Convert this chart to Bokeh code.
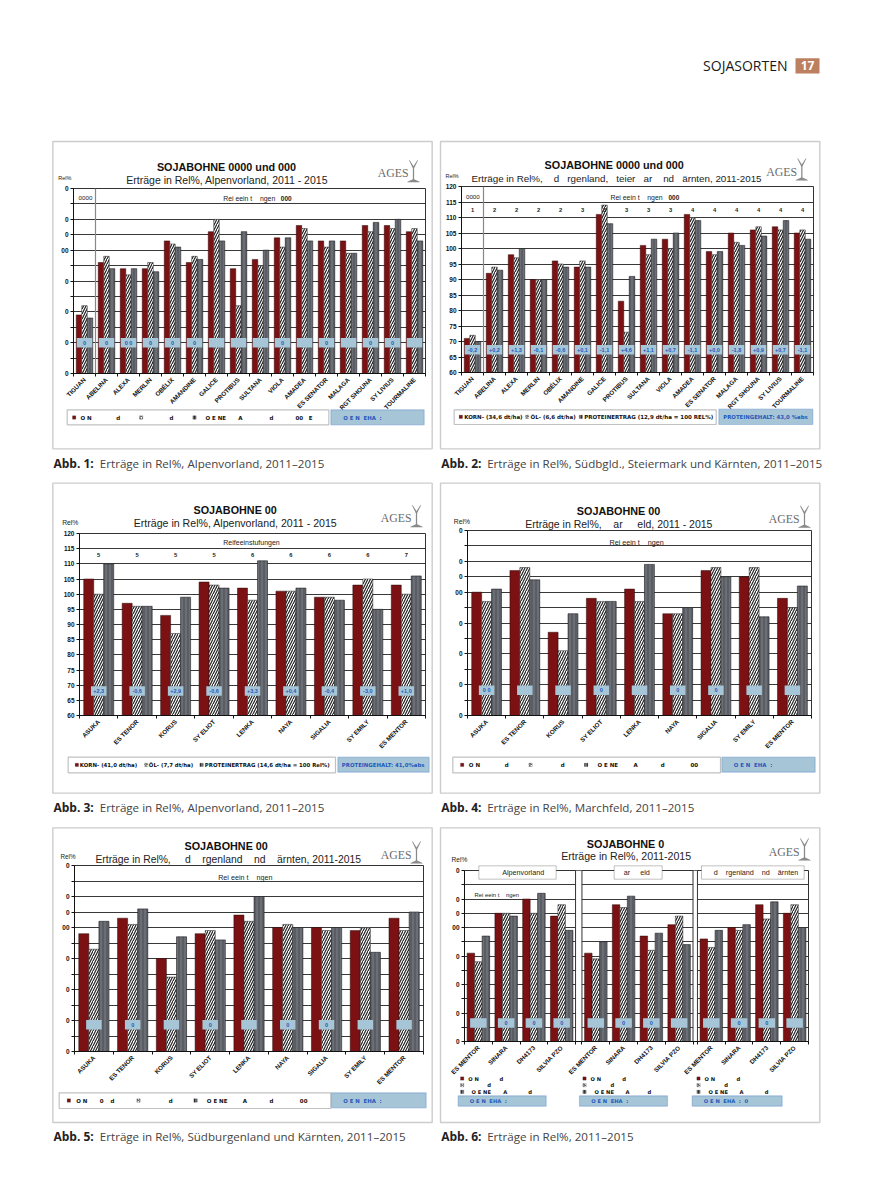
import math, re
from bokeh.plotting import figure
from bokeh.layouts import column
from bokeh.models import (Range1d, LinearAxis, FixedTicker, Grid, Label, BoxAnnotation,
                          PolyAnnotation, Span)
from bokeh.core.properties import value
from bokeh.embed import file_html
from bokeh.resources import INLINE

# ---------------- data (Rel%) -----------------
y_ticks = list(range(60, 125, 5))
names_a = ["TIGUAN", "ABELINA", "ALEXA", "MERLIN", "OBÉLIX", "AMANDINE", "GALICE", "PROTIBUS",
           "SULTANA", "VIOLA", "AMADEA", "ES SENATOR", "MALAGA", "RGT SHOUNA", "SY LIVIUS", "TOURMALINE"]
names_b = ["ASUKA", "ES TENOR", "KORUS", "SY ELIOT", "LENKA", "NAYA", "SIGALIA", "SY EMILY", "ES MENTOR"]
names_c = ["ES MENTOR", "SINARA", "DH4173", "SILVIA PZO"]

korn1 = [79, 96, 94, 94, 103, 96, 106, 94, 97, 104, 108, 103, 103, 108, 108, 106]
oel1 = [82, 98, 92, 96, 102, 98, 110, 82, 95, 101, 107, 101, 99, 106, 107, 107]
prot1 = [78, 94, 94, 93, 101, 97, 103, 106, 100, 104, 103, 103, 99, 109, 110, 103]
badge1 = ["0", "0", "0 0", "0", "0", "0", "", "", "", "0", "", "0", "", "0", "0", ""]

korn2 = [71, 92, 98, 90, 96, 94, 111, 83, 101, 103, 111, 99, 105, 106, 107, 105]
oel2 = [72, 94, 97, 90, 95, 96, 114, 73, 98, 100, 110, 98, 102, 107, 106, 106]
prot2 = [70, 93, 100, 90, 94, 94, 108, 91, 103, 105, 109, 99, 101, 104, 109, 103]
badge2 = ["-0,2", "+0,2", "+1,3", "-0,1", "-0,6", "+0,1", "-1,1", "+4,6", "+1,1", "+0,7", "-1,1",
          "+0,0", "-1,8", "+0,9", "+0,7", "-1,1"]
maturity2 = ["1", "2", "2", "2", "2", "3", "3", "3", "3", "3", "4", "4", "4", "4", "4", "4"]

korn3 = [105, 97, 93, 104, 102, 101, 99, 103, 103]
oel3 = [100, 96, 87, 103, 98, 101, 99, 105, 100]
prot3 = [110, 96, 99, 102, 111, 102, 98, 95, 106]
badge3 = ["+2,3", "-0,6", "+2,9", "-0,6", "+3,3", "+0,4", "-0,4", "-3,0", "+1,0"]
maturity3 = ["5", "5", "5", "5", "6", "6", "6", "6", "7"]

korn4 = [100, 107, 87, 98, 101, 93, 107, 105, 98]
oel4 = [97, 108, 81, 97, 97, 93, 108, 108, 95]
prot4 = [101, 104, 93, 97, 109, 95, 105, 92, 102]
badge4 = ["0 0", "", "", "0", "", "0", "0", "", ""]

korn5 = [98, 103, 90, 98, 104, 100, 100, 99, 103]
oel5 = [93, 101, 84, 99, 102, 101, 99, 100, 99]
prot5 = [102, 106, 97, 96, 110, 100, 100, 92, 105]
badge5 = ["", "0", "", "0", "", "0", "0", "", ""]

korn6 = [91, 105, 110, 104, 91, 108, 97, 101, 96, 100, 108, 105]
oel6 = [88, 105, 105, 108, 89, 107, 92, 104, 93, 99, 103, 108]
prot6 = [97, 104, 112, 99, 95, 111, 98, 94, 99, 101, 109, 100]
badge6 = ["", "0", "0", "0", "", "0", "0", "", "", "0", "0", ""]
group_start6 = [0, 4.23, 8.39]

garbled = {120: "0", 115: "", 110: "0", 105: "0", 100: "00", 95: "", 90: "0", 85: "", 80: "0", 75: "", 70: "0", 65: "", 60: "0"}

RED = "#7B1113"
GREY = "#6C6E76"
BADGE = "#A6C6D8"
BLUE = "#2458B8"
SANS = "Liberation Sans"
DJ = "DejaVu Sans"
PAGE_W, PAGE_H = 881, 1192

overlay = figure(width=PAGE_W, height=PAGE_H, output_backend="svg", toolbar_location=None,
                 x_range=Range1d(0, PAGE_W), y_range=Range1d(PAGE_H, 0), x_axis_type=None, y_axis_type=None,
                 min_border=0, background_fill_color=None, border_fill_color=None, outline_line_color=None,
                 frame_align=False,
                 styles={"position": "absolute", "left": "0px", "top": "0px", "pointer-events": "none"})
overlay.xgrid.visible = False
overlay.ygrid.visible = False


def nb(s):
    return re.sub(r" {2,}", lambda m: "\u00a0" * len(m.group(0)), s)


class Chart:
    def __init__(self, frame, zorg, xmax):
        self.zx, self.zy = zorg
        L, T, R, B = [int(round(v)) for v in frame]
        self.ml, self.mt, self.mr, self.mb = 26, 4, 4, 62
        self.ox, self.oy = L - self.ml, T - self.mt
        self.p = figure(width=R - L + self.ml + self.mr, height=B - T + self.mt + self.mb,
                        output_backend="svg", toolbar_location=None,
                        x_range=Range1d(0, xmax), y_range=Range1d(60, 120),
                        x_axis_type=None, y_axis_type=None, frame_align=False,
                        min_border_left=self.ml, min_border_top=self.mt, min_border_right=self.mr, min_border_bottom=self.mb,
                        background_fill_color=None, border_fill_color=None,
                        outline_line_color="#333333", outline_line_width=1,
                        styles={"position": "absolute", "left": f"{self.ox}px", "top": f"{self.oy}px"})
        self.p.xgrid.visible = False
        self.p.ygrid.visible = False

    def X(self, z):
        return self.zx + z / 3

    def Y(self, z):
        return self.zy + z / 3

    def text(self, zx, zy, s, size=6, bold=False, font=SANS, color="#222222", align="left"):
        overlay.add_layout(Label(x=self.X(zx), y=self.Y(zy), text=nb(s), text_font=font,
                                 text_font_size=f"{size}px", text_font_style="bold" if bold else "normal",
                                 text_color=color, text_align=align, text_baseline="middle"))

    def cat_text(self, x, zy, s, size=5.8):
        # a label over a category: x is on the chart's own scale
        self.p.add_layout(Label(x=x, x_units="data", y=self.Y(zy) - self.oy, y_units="canvas", text=s, text_font=SANS,
                                text_font_size=f"{size}px", text_font_style="bold", text_color="#222222",
                                text_align="center", text_baseline="middle"))

    def box(self, z0, z1, y0, y1, fill="white", line="#333333", lw=1.0, **hatch):
        overlay.add_layout(BoxAnnotation(left=self.X(z0), right=self.X(z1), top=self.Y(y0), bottom=self.Y(y1),
                                         fill_color=fill, fill_alpha=1.0 if fill else 0,
                                         line_color=line, line_width=lw, level="annotation", **hatch))

    def logo(self, zx, zy):
        self.text(zx, zy, "AGES", size=11.8, font="Liberation Serif", color="#6b6b6b")
        cx, cy = zx + 107, zy
        shape = [(-4.5, -13), (-0.6, -5), (-0.6, 6), (-6, 8.5), (-6, 9), (6, 9), (6, 8.5), (0.6, 6), (0.6, -5), (4.5, -13), (3.8, -13), (0, -7), (-3.8, -13)]
        overlay.add_layout(PolyAnnotation(xs=[self.X(cx + 3 * a) for a, b in shape], ys=[self.Y(cy + 3 * b) for a, b in shape],
                                          fill_color="#8a8a8a", fill_alpha=1, line_color="#8a8a8a", line_width=0.2))

    def swatch(self, zx, zy, kind):
        st = (dict(fill=RED) if kind == 0 else
              dict(fill="white", hatch_pattern="right_diagonal_line", hatch_color="#111111", hatch_scale=3, hatch_weight=0.8) if kind == 1 else
              dict(fill=GREY, hatch_pattern="vertical_line", hatch_color="#222222", hatch_scale=3, hatch_weight=0.8))
        self.box(zx - 5, zx + 5, zy - 5, zy + 5, line="#111111", lw=0.6, **st)

    def chrome(self, box, title, sub, rel, caption_n, caption, cap_y, logo, cap_x):
        z0, z1, y0, y1 = box
        self.box(z0, z1, y0, y1, fill=None, line="#555555", lw=1.4)
        self.text(rel[0], rel[1], "Rel%", size=rel[2], color="#222222")
        self.text(title[0], title[1], title[2], size=10.8, bold=True, color="#111111", align="center")
        self.text(sub[0], sub[1], sub[2], size=sub[3], color="#222222", align="center")
        self.logo(*logo)
        self.text(z0 + 2, cap_y, f"Abb. {caption_n}:", size=12, bold=True, font="Open Sans", color="#222222")
        self.text(cap_x, cap_y, caption, size=11.6, font="Open Sans", color="#444444")

    def axes(self, boundaries, centres, names, labels=None):
        p = self.p
        ya = LinearAxis(ticker=FixedTicker(ticks=y_ticks), major_tick_in=0, major_tick_out=3, minor_tick_out=0, minor_tick_in=0,
                        major_label_text_font=SANS, major_label_text_font_size="6.5px", major_label_text_font_style="bold",
                        major_label_text_color="#111111", axis_line_color="#111111", axis_line_width=1,
                        major_tick_line_color="#111111", major_label_standoff=2)
        if labels:
            ya.major_label_overrides = labels
        p.add_layout(ya, "left")
        tick_ax = LinearAxis(ticker=FixedTicker(ticks=boundaries), major_tick_in=0, major_tick_out=3, minor_tick_out=0, minor_tick_in=0,
                             major_label_text_color=None, major_label_text_font_size="1px", major_label_standoff=0,
                             axis_line_color="#111111", axis_line_width=1.2, major_tick_line_color="#111111")
        p.add_layout(tick_ax, "below")
        lab_ax = LinearAxis(ticker=FixedTicker(ticks=centres), major_tick_line_color=None, minor_tick_line_color=None,
                            axis_line_color=None, major_label_orientation=math.pi / 4,
                            major_label_overrides={c: s for c, s in zip(centres, names)},
                            major_label_text_font=SANS, major_label_text_font_size="6.3px", major_label_text_font_style="bold",
                            major_label_text_color="#111111", major_label_standoff=2, major_tick_in=0, major_tick_out=0)
        p.add_layout(lab_ax, "below")
        p.add_layout(Grid(dimension=1, ticker=FixedTicker(ticks=y_ticks), grid_line_color="#222222", grid_line_width=0.9))

    def bars(self, xs, korn, oel, prot, w):
        p = self.p
        p.vbar(x=[x - w for x in xs], top=korn, bottom=60, width=w, fill_color=RED, line_color="#2a0a0a", line_width=0.5)
        p.vbar(x=list(xs), top=oel, bottom=60, width=w, fill_color="white", line_color="#222222", line_width=0.5,
               hatch_pattern="right_diagonal_line", hatch_color="#222222", hatch_scale=5, hatch_weight=1.2)
        p.vbar(x=[x + w for x in xs], top=prot, bottom=60, width=w, fill_color=GREY, line_color="#222222", line_width=0.6,
               hatch_pattern="vertical_line", hatch_color="#3A3B41", hatch_scale=4, hatch_weight=0.7)

    def badges(self, xs, texts, ydata, w=15.5, h=9.5, size=5.5):
        p = self.p
        p.rect(x=list(xs), y=[ydata] * len(xs), width=w, height=h, width_units="screen", height_units="screen",
               fill_color=BADGE, line_color=None)
        for x, s in zip(xs, texts):
            if s:
                p.text(x=[x], y=[ydata], text=[s], text_align="center", text_baseline="middle", text_color=BLUE,
                       text_font_size=f"{size}px", text_font_style="bold", text_font=value(SANS))


def standard(names, korn, oel, prot, badge, frame, zorg, w, ybadge, labels):
    c = Chart(frame, zorg, len(names))
    centres = [i + 0.5 for i in range(len(names))]
    c.axes(list(range(len(names) + 1)), centres, names, labels)
    c.bars(centres, korn, oel, prot, w)
    c.badges(centres, badge, ybadge)
    return c, centres


def legend(c, box, blue, ymid, sw, pieces, bluetext, center=False, size=5.5):
    c.box(box[0], box[1], box[2], box[3], lw=1.2)
    c.box(blue[0], blue[1], blue[2], blue[3], fill=BADGE, line="#3A6FBF", lw=1.2)
    for i, s in enumerate(sw):
        c.swatch(s, ymid, i)
    for zx, t in pieces:
        c.text(zx, ymid, t, size=size, bold=True, font=DJ, color="#111111")
    c.text(bluetext[0], ymid, bluetext[1], size=5.4, bold=True, font=DJ, color=BLUE, align="center" if center else "left")


# ---- Panel 1
c1, ctr1 = standard(names_a, korn1, oel1, prot1, badge1, (73.3, 187.7, 425, 372.7), (45, 140), 0.25, 70, garbled)
c1.p.add_layout(Span(location=1, dimension="height", line_color="#888888", line_width=1.2))
c1.chrome((22, 1160, 3, 925), (543, 79, "SOJABOHNE 0000 und 000"), (545, 118, "Erträge in Rel%, Alpenvorland, 2011 - 2015", 10.5),
          (38, 113, 5.5), 1, "Erträge in Rel%, Alpenvorland, 2011–2015", 968, (997, 98), 163)
c1.text(120, 173, "0000", size=6.2, align="center")
c1.text(533, 175, "Rei eein t    ngen", size=6.9)
c1.text(706, 175, "000", size=6.5, bold=True)
legend(c1, (65, 850, 808, 853), (856, 1136, 808, 853), 831, (86, 287, 447),
       [(105, "O N"), (212, "d"), (372, "d"), (480, "O E NE"), (578, "A"), (672, "d"), (750, "00"), (790, "E")],
       (893, "O E N  EHA  :"))

# ---- Panel 2
c2, ctr2 = standard(names_a, korn2, oel2, prot2, badge2, (461, 186, 812.7, 372), (435, 140), 0.25, 67.3, None)
c2.p.add_layout(Span(location=1, dimension="height", line_color="#888888", line_width=1.2))
c2.chrome((15, 1153, 3, 925), (536, 72, "SOJABOHNE 0000 und 000"), (543, 115, "Erträge in Rel%,    d   rgenland,   teier   ar    nd   ärnten, 2011-2015", 9.8),
          (30, 107, 5.5), 2, "Erträge in Rel%, Südbgld., Steiermark und Kärnten, 2011–2015", 968, (992, 93), 155)
c2.text(112, 170, "0000", size=6.2, align="center")
c2.text(525, 171, "Rei eein t    ngen", size=6.9)
c2.text(699, 171, "000", size=6.5, bold=True)
for x, s in zip(ctr2, maturity2):
    c2.cat_text(x, 208, s)
legend(c2, (56, 842, 808, 852), (850, 1132, 806, 852), 829, (76, 275, 436),
       [(86, "KORN- (34,6 dt/ha)"), (285, "ÖL- (6,6 dt/ha)"), (446, "PROTEINERTRAG (12,9 dt/ha = 100 REL%)")],
       (990, "PROTEINGEHALT: 43,0 %abs"), center=True)

# ---- Panel 3
c3, ctr3 = standard(names_b, korn3, oel3, prot3, badge3, (79.3, 533.3, 425, 715), (45, 480), 0.26, 68.1, None)
c3.chrome((22, 1160, 8, 938), (569, 88, "SOJABOHNE 00"), (570, 126, "Erträge in Rel%, Alpenvorland, 2011 - 2015", 10.6),
          (50, 126, 6.8), 3, "Erträge in Rel%, Alpenvorland, 2011–2015", 980, (1006, 113), 163)
c3.text(618, 185, "Reifeeinstufungen", size=7, align="center")
for x, s in zip(ctr3, maturity3):
    c3.cat_text(x, 222, s)
legend(c3, (68, 870, 830, 877), (877, 1151, 830, 875), 853, (94, 302, 468),
       [(103, "KORN- (41,0 dt/ha)"), (310, "ÖL- (7,7 dt/ha)"), (478, "PROTEINERTRAG (14,6 dt/ha = 100 Rel%)")],
       (1013, "PROTEINGEHALT: 41,0%abs"), center=True, size=5.4)

# ---- Panel 4
c4, ctr4 = standard(names_b, korn4, oel4, prot4, badge4, (466.7, 529.7, 811, 715), (435, 480), 0.26, 68.2, garbled)
c4.chrome((15, 1153, 8, 938), (549, 90, "SOJABOHNE 00"), (550, 129, "Erträge in Rel%,    ar     eld, 2011 - 2015", 10.5),
          (55, 122, 6.8), 4, "Erträge in Rel%, Marchfeld, 2011–2015", 980, (1000, 115), 155)
c4.text(522, 185, "Rei eein t    ngen", size=7.2)
legend(c4, (52, 855, 830, 877), (859, 1139, 830, 875), 853, (80, 285, 452),
       [(100, "O N"), (208, "d"), (376, "d"), (486, "O E NE"), (594, "A"), (676, "d"), (765, "00")],
       (895, "O E N  EHA  :"))

# ---- Panel 5
c5, ctr5 = standard(names_b, korn5, oel5, prot5, badge5, (73.7, 865.3, 422.7, 1050.7), (45, 822), 0.26, 68.6, garbled)
c5.chrome((22, 1160, 16, 900), (542, 69, "SOJABOHNE 00"), (548, 111, "Erträge in Rel%,     d    rgenland    nd    ärnten, 2011-2015", 10.35),
          (45, 103, 6.3), 5, "Erträge in Rel%, Südburgenland und Kärnten, 2011–2015", 942, (1006, 96), 163)
c5.text(518, 166, "Rei eein t    ngen", size=7.2)
legend(c5, (41, 856, 811, 858), (858, 1142, 811, 856), 834, (70, 279, 450),
       [(92, "O N"), (163, "0"), (195, "d"), (370, "d"), (484, "O E NE"), (592, "A"), (672, "d"), (763, "00")],
       (893, "O E N  EHA  :"))

# ---- Panel 6
xmax6 = group_start6[2] + 4
c6 = Chart((464.3, 869.7, 807.7, 1041), (435, 822), xmax6)
ctr6 = [g + i + 0.5 for g in group_start6 for i in range(4)]
bnd6 = [g + i for g in group_start6 for i in range(5)]
c6.axes(bnd6, ctr6, names_c * 3, garbled)
for g0, g1 in zip(group_start6[:2], group_start6[1:]):
    c6.p.quad(left=g0 + 4.0, right=g1, top=120, bottom=60, fill_color="white", line_color=None)
    c6.p.add_layout(Span(location=g0 + 4.0, dimension="height", line_color="#333333", line_width=1))
    c6.p.add_layout(Span(location=g1, dimension="height", line_color="#333333", line_width=1))
c6.bars(ctr6, korn6, oel6, prot6, 0.27)
c6.badges(ctr6, badge6, 66.5, w=16.5)
c6.chrome((15, 1153, 16, 900), (570, 63, "SOJABOHNE 0"), (572, 100, "Erträge in Rel%, 2011-2015", 10.6),
          (48, 112, 6.6), 6, "Erträge in Rel%, 2011–2015", 942, (1000, 87), 155)
c6.text(117, 216, "Rei eein t    ngen", size=5.9)
for z0, z1, s, tz in ((130, 362, "Alpenvorland", 200), (536, 680, "ar     eld", 565), (798, 1106, "d    rgenland    nd    ärnten", 835)):
    c6.box(z0, z1, 130, 170, lw=1.0)
    c6.text(tz, 151, s, size=7.2)
for sw_x, pieces, blue, bt in (
        (80, [(98, 768, "O N"), (192, 768, "d"), (155, 788, "d"), (108, 808, "O E NE"), (203, 808, "A"), (278, 808, "d")], (68, 332), "O E N  EHA  :"),
        (447, [(465, 768, "O N"), (560, 768, "d"), (525, 788, "d"), (477, 808, "O E NE"), (570, 808, "A"), (636, 808, "d")], (432, 696), "O E N  EHA  :"),
        (789, [(807, 768, "O N"), (903, 768, "d"), (866, 788, "d"), (819, 808, "O E NE"), (912, 808, "A"), (988, 808, "d")], (770, 1040), "O E N  EHA  :  0")):
    for i, zy in enumerate((768, 788, 808)):
        c6.swatch(sw_x, zy, i)
    for zx, zy, t in pieces:
        c6.text(zx, zy, t, size=5.2, bold=True, font=DJ, color="#111111")
    c6.box(blue[0], blue[1], 820, 851, fill=BADGE, line="#3A6FBF", lw=1.2)
    c6.text(blue[0] + 35, 835, bt, size=5.2, bold=True, font=DJ, color=BLUE)

# ---- page header
c2.box(1080, 1152, -247, -201, fill="#BC7F5F", line=None)
c2.text(1116, -224, "17", size=12, bold=True, font="Open Sans", color="white", align="center")
c2.text(1056, -225, "SOJASORTEN", size=14, font="Open Sans", color="#1a1a1a", align="right")

page = column(c1.p, c2.p, c3.p, c4.p, c5.p, c6.p, overlay, width=PAGE_W, height=PAGE_H)
open("out.html", "w").write(file_html(page, INLINE))
